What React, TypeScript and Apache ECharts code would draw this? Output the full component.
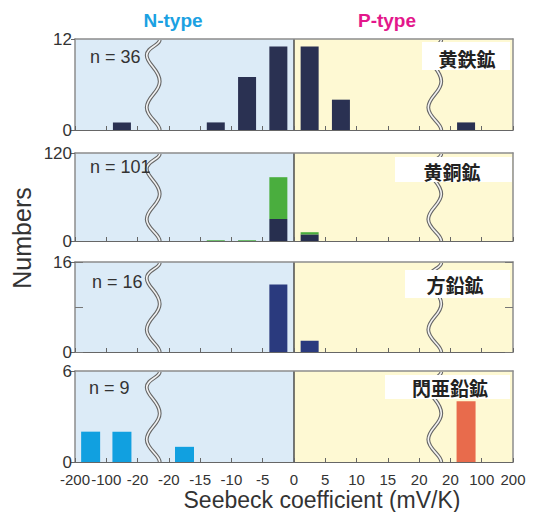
import React, { useEffect, useRef } from "react";
import * as echarts from "echarts";

// Bin boundary labels (Seebeck coefficient, mV/K) — 14 bins between 15 boundaries
const binLabels = ["-200", "-100", "-20", "-20", "-15", "-10", "-5", "0", "5", "10", "15", "20", "20", "100", "200"];
const binCategories = ["b1", "b2", "b3", "b4", "b5", "b6", "b7", "b8", "b9", "b10", "b11", "b12", "b13", "b14"];

// Counts per bin (14 bins, left to right)
const pyriteCounts = [0, 1, 0, 0, 1, 7, 11, 11, 4, 0, 0, 0, 1, 0];
const chalcopyriteDark = [0, 0, 0, 0, 0, 0, 30, 9, 0, 0, 0, 0, 0, 0];
const chalcopyriteGreen = [0, 0, 0, 0, 1, 1, 57, 3, 0, 0, 0, 0, 0, 0];
const galenaCounts = [0, 0, 0, 0, 0, 0, 12, 2, 0, 0, 0, 0, 0, 0];
const sphaleriteCounts = [2, 2, 0, 1, 0, 0, 0, 0, 0, 0, 0, 0, 4, 0];

const mineralNames = ["黄鉄鉱", "黄銅鉱", "方鉛鉱", "閃亜鉛鉱"];
const sampleLabels = ["n = 36", "n = 101", "n = 16", "n = 9"];
const yMaxes = [12, 120, 16, 6];
const breakPositions = [2.5, 11.5];
const zoneBounds = [
  [0, 7],
  [7, 14],
];
const dividerAt = 7;

const wavePath =
  "M12,0 C12,6 2,8 2,17 C2,27 12,33 12,46 C12,58 2,63 2,75 C2,86 12,92 12,100";

// layout (pixels)
const gridTops = [39, 153, 262, 371];
const gridHeights = [91, 88, 90, 91];
const boxes = [
  { x: 422, y: 42, w: 88, h: 28, tx: 467, ty: 58 },
  { x: 395, y: 157, w: 117, h: 25, tx: 452, ty: 171 },
  { x: 405, y: 270, w: 105, h: 28, tx: 455, ty: 284 },
  { x: 385, y: 375, w: 125, h: 24, tx: 450, ty: 387 },
];
const nPos = [
  { x: 90, y: 57 },
  { x: 90, y: 167 },
  { x: 92, y: 282 },
  { x: 89, y: 388 },
];
const zoneColors = ["#dcebf7", "#fef9d3"];

const FONT = "Liberation Sans, Arial, sans-serif";
const CJK = "Noto Sans CJK JP, sans-serif";

export default function App() {
  const ref = useRef<HTMLDivElement>(null);

  useEffect(() => {
    if (!ref.current) return;
    const chart = echarts.init(ref.current, null, { renderer: "svg" });

    const grids: any[] = [];
    const xAxes: any[] = [];
    const yAxes: any[] = [];
    const series: any[] = [];

    for (let gi = 0; gi < 4; gi++) {
      const max = yMaxes[gi];
      grids.push({ left: 75, right: 23, top: gridTops[gi], height: gridHeights[gi] });

      // value axis (ticks / labels at bin boundaries)
      const xv = xAxes.length;
      xAxes.push({
        gridIndex: gi,
        type: "value",
        min: 0,
        max: 14,
        interval: 1,
        position: "bottom",
        z: 5,
        axisLine: { show: true, onZero: false, lineStyle: { color: "#666", width: 1.2 } },
        axisTick: { show: true, inside: true, length: 4, lineStyle: { color: "#666" } },
        axisLabel: {
          show: gi === 3,
          showMinLabel: true,
          showMaxLabel: true,
          hideOverlap: false,
          formatter: (v: number) => binLabels[Math.round(v)] ?? "",
          fontSize: 15,
          color: "#333",
          fontFamily: FONT,
          margin: 10,
        },
        splitLine: { show: false },
      });
      // top frame
      xAxes.push({
        gridIndex: gi,
        type: "value",
        min: 0,
        max: 14,
        position: "top",
        z: 5,
        axisLine: { show: true, onZero: false, lineStyle: { color: "#8c8c8c", width: 1.5 } },
        axisTick: { show: false },
        axisLabel: { show: false },
        splitLine: { show: false },
      });
      // category axis for bars (hidden)
      const xc = xAxes.length;
      xAxes.push({
        gridIndex: gi,
        type: "category",
        data: binCategories,
        boundaryGap: true,
        position: "bottom",
        show: false,
      });

      const yl = yAxes.length;
      yAxes.push({
        gridIndex: gi,
        type: "value",
        min: 0,
        max,
        interval: max,
        position: "left",
        z: 5,
        axisLine: { show: true, onZero: false, lineStyle: { color: "#8c8c8c", width: 1.5 } },
        axisTick: { show: true, length: 4, lineStyle: { color: "#666" } },
        axisLabel: { fontSize: 17, color: "#333", fontFamily: FONT, margin: 3, showMinLabel: true, showMaxLabel: true },
        splitLine: { show: false },
      });
      const midTick = gi === 2;
      yAxes.push({
        gridIndex: gi,
        type: "value",
        min: 0,
        max,
        interval: midTick ? max / 2 : max,
        position: "right",
        z: 5,
        axisLine: { show: true, onZero: false, lineStyle: { color: "#8c8c8c", width: 1.5 } },
        axisTick: { show: midTick, inside: true, length: 8, lineStyle: { color: "#777" } },
        axisLabel: { show: false },
        splitLine: { show: false },
      });
      if (midTick) {
        yAxes.push({
          gridIndex: gi,
          type: "value",
          min: 0,
          max,
          interval: max / 2,
          position: "left",
          z: 5,
          axisLine: { show: false, onZero: false },
          axisTick: { show: true, inside: true, length: 8, lineStyle: { color: "#777" } },
          axisLabel: { show: false },
          splitLine: { show: false },
        });
      }

      // background zones
      series.push({
        type: "custom",
        xAxisIndex: xv,
        yAxisIndex: yl,
        silent: true,
        z: 1,
        data: zoneBounds.map((b) => [b[0], b[1]]),
        renderItem: (params: any, api: any) => {
          const p0 = api.coord([api.value(0), max]);
          const p1 = api.coord([api.value(1), 0]);
          return {
            type: "rect",
            shape: { x: p0[0], y: p0[1], width: p1[0] - p0[0], height: p1[1] - p0[1] },
            style: { fill: zoneColors[params.dataIndex] },
          };
        },
      });
      // N / P divider
      series.push({
        type: "custom",
        xAxisIndex: xv,
        yAxisIndex: yl,
        silent: true,
        z: 4,
        data: [[dividerAt, 0]],
        renderItem: (params: any, api: any) => {
          const a = api.coord([api.value(0), max]);
          const b = api.coord([api.value(0), 0]);
          return {
            type: "line",
            shape: { x1: a[0], y1: a[1], x2: b[0], y2: b[1] },
            style: { stroke: "#333", lineWidth: 1.3 },
          };
        },
      });

      const barBase = {
        type: "bar",
        xAxisIndex: xc,
        yAxisIndex: yl,
        z: 3,
        barWidth: gi === 3 ? 19 : 18,
      };
      if (gi === 0) {
        series.push({ ...barBase, data: pyriteCounts, itemStyle: { color: "#2a3152" } });
      } else if (gi === 1) {
        series.push({ ...barBase, stack: "c", data: chalcopyriteDark, itemStyle: { color: "#272f4f" } });
        series.push({ ...barBase, stack: "c", data: chalcopyriteGreen, itemStyle: { color: "#4aae3e" } });
      } else if (gi === 2) {
        series.push({ ...barBase, data: galenaCounts, itemStyle: { color: "#2a3a7e" } });
      } else {
        series.push({
          ...barBase,
          data: sphaleriteCounts.map((v, i) => ({
            value: v,
            itemStyle: { color: i < 7 ? "#11a0e0" : "#e86b4c" },
          })),
        });
      }

      // axis break symbols
      series.push({
        type: "custom",
        xAxisIndex: xv,
        yAxisIndex: yl,
        clip: false,
        silent: true,
        z: 6,
        data: breakPositions.map((p) => [p, 0]),
        renderItem: (params: any, api: any) => {
          const top = api.coord([api.value(0), max]);
          const bot = api.coord([api.value(0), 0]);
          const w = 13;
          const shape = {
            pathData: wavePath,
            x: top[0] - w / 2,
            y: top[1] + 1,
            width: w,
            height: bot[1] - top[1] - 1,
            layout: "cover",
          };
          return {
            type: "group",
            children: [
              { type: "path", shape, style: { stroke: "#666", lineWidth: 3.8, fill: "none" } },
              { type: "path", shape: { ...shape }, style: { stroke: "#f2f2f2", lineWidth: 1.6, fill: "none" } },
            ],
          };
        },
      });
    }

    const graphic: any[] = [
      {
        type: "text",
        z: 10,
        x: 173,
        y: 20,
        style: { text: "N-type", fill: "#1ba1e2", font: `bold 19px ${FONT}`, align: "center", verticalAlign: "middle" },
      },
      {
        type: "text",
        z: 10,
        x: 387,
        y: 20,
        style: { text: "P-type", fill: "#e3178b", font: `bold 19px ${FONT}`, align: "center", verticalAlign: "middle" },
      },
      {
        type: "text",
        z: 10,
        x: 22,
        y: 238,
        rotation: Math.PI / 2,
        style: { text: "Numbers", fill: "#333", font: `25px ${FONT}`, align: "center", verticalAlign: "middle" },
      },
      {
        type: "text",
        z: 10,
        x: 322,
        y: 500,
        style: {
          text: "Seebeck coefficient (mV/K)",
          fill: "#333",
          font: `23px ${FONT}`,
          align: "center",
          verticalAlign: "middle",
        },
      },
    ];
    for (let gi = 0; gi < 4; gi++) {
      graphic.push({
        type: "text",
        z: 10,
        x: nPos[gi].x,
        y: nPos[gi].y,
        style: { text: sampleLabels[gi], fill: "#333", font: `18px ${FONT}`, align: "left", verticalAlign: "middle" },
      });
      const b = boxes[gi];
      graphic.push({
        type: "rect",
        z: 10,
        shape: { x: b.x, y: b.y, width: b.w, height: b.h },
        style: { fill: "#ffffff" },
      });
      graphic.push({
        type: "text",
        z: 11,
        x: b.tx,
        y: b.ty,
        style: {
          text: mineralNames[gi],
          fill: "#222",
          font: `bold 19px ${CJK}`,
          align: "center",
          verticalAlign: "middle",
        },
      });
    }

    chart.setOption({
      animation: false,
      backgroundColor: "#ffffff",
      grid: grids,
      xAxis: xAxes,
      yAxis: yAxes,
      series,
      graphic,
    });

    return () => chart.dispose();
  }, []);

  return (
    <div
      ref={ref}
      style={{ position: "fixed", left: 0, top: 0, width: 536, height: 512 }}
    />
  );
}
